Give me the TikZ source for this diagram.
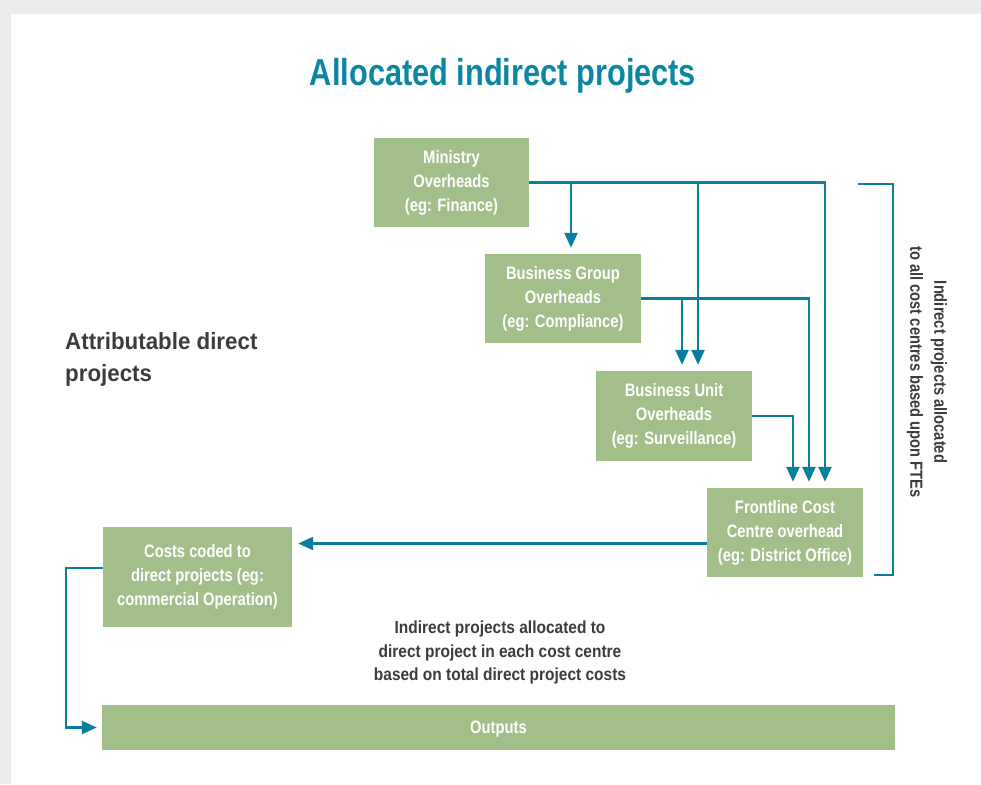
\documentclass[tikz,border=0pt]{standalone}
\usepackage{fontspec}
\usetikzlibrary{arrows.meta}
\newfontfamily\condfont[FakeStretch=0.82]{Liberation Sans}
\newfontfamily\sidefont[FakeStretch=0.84]{Liberation Sans}
\newfontfamily\notefont[FakeStretch=0.885]{Liberation Sans}
\newfontfamily\widecondfont[FakeStretch=0.95]{Liberation Sans}
\definecolor{pagegray}{HTML}{EBECEB}
\definecolor{boxgreen}{HTML}{A3BF89}
\definecolor{flowteal}{HTML}{0A7E9D}
\definecolor{titleteal}{HTML}{0B87A3}
\definecolor{inkgray}{HTML}{3C3C3E}
\tikzset{
  costbox/.style={fill=boxgreen, draw=none, inner sep=0pt, align=center,
    text=white, font=\condfont\bfseries\fontsize{18}{24}\selectfont},
  flow/.style={draw=flowteal, line width=2.5pt, line join=miter,
    -{Triangle[length=15pt,width=13pt]}},
  bracketline/.style={draw=flowteal, line width=2.5pt, line join=miter},
  note/.style={text=inkgray, inner sep=0pt, align=center}
}
\begin{document}
\begin{tikzpicture}[x=1pt,y=-1pt]
  % page and white panel
  \fill[pagegray] (0,0) rectangle (981,784);
  \fill[white] (11,14) rectangle (981,784);
  \useasboundingbox (0,0) rectangle (981,784);

  % heading
  \node[text=titleteal, inner sep=0pt,
        font=\condfont\bfseries\fontsize{37.5}{40}\selectfont]
        (title) at (503,76) {Allocated indirect projects};

  % overhead hierarchy
  \node[costbox, minimum width=155pt, minimum height=89pt] (min) at (451.5,182.5)
    {Ministry\\Overheads\\(eg: Finance)};
  \node[costbox, minimum width=156pt, minimum height=89pt] (bg) at (563,298.5)
    {Business Group\\Overheads\\(eg: Compliance)};
  \node[costbox, minimum width=156pt, minimum height=90pt] (bu) at (674,416)
    {Business Unit\\Overheads\\(eg: Surveillance)};
  \node[costbox, minimum width=156pt, minimum height=89pt] (fl) at (785,532.5)
    {Frontline Cost\\Centre overhead\\(eg: District Office)};
  \node[costbox, minimum width=189pt, minimum height=100pt] (cc) at (197.5,577)
    {Costs coded to\\direct projects (eg:\\commercial Operation)};
  \node[costbox, minimum width=793pt, minimum height=45pt, text depth=0pt] (out)
    at (498.5,727.5) {Outputs};

  % side labels
  \node[text=inkgray, inner sep=0pt, anchor=north west, align=left,
        font=\widecondfont\bfseries\fontsize{23.5}{32}\selectfont]
        (attr) at (65,332) {Attributable direct\\projects};
  \node[note, anchor=north, font=\notefont\bfseries\fontsize{17.5}{23.5}\selectfont]
    (alloc) at (500,621)
    {Indirect projects allocated to\\direct project in each cost centre\\based on total direct project costs};
  \node[note, rotate=-90, font=\sidefont\bfseries\fontsize{17.5}{24}\selectfont]
    (fte) at (927,372)
    {Indirect projects allocated\\to all cost centres based upon FTEs};

  % allocations from the ministry
  \draw[flow, shorten >=6pt] (min.east) -| ([xshift=40pt]fl.north);
  \draw[flow, shorten >=6pt] ([xshift=8pt]bg.north |- min.east) -- ([xshift=8pt]bg.north);
  \draw[flow, shorten >=6pt] ([xshift=24pt]bu.north |- min.east) -- ([xshift=24pt]bu.north);
  % allocations from the business group
  \draw[flow, shorten >=6pt] (bg.east) -| ([xshift=24pt]fl.north);
  \draw[flow, shorten >=6pt] ([xshift=8pt]bu.north |- bg.east) -- ([xshift=8pt]bu.north);
  % allocation from the business unit
  \draw[flow, shorten >=6pt] (bu.east) -| ([xshift=8pt]fl.north);
  % frontline to direct projects
  \draw[flow, shorten >=6pt] ([yshift=-11pt]fl.west) -- ([yshift=-11pt]fl.west -| cc.east);
  % direct projects to outputs
  \draw[flow, shorten >=5pt] ([yshift=9pt]cc.west) -- ++(-37,0) |- (out.west);

  % FTE bracket
  \draw[bracketline] (858,184) -| (893,575) -- (874,575);
\end{tikzpicture}
\end{document}
